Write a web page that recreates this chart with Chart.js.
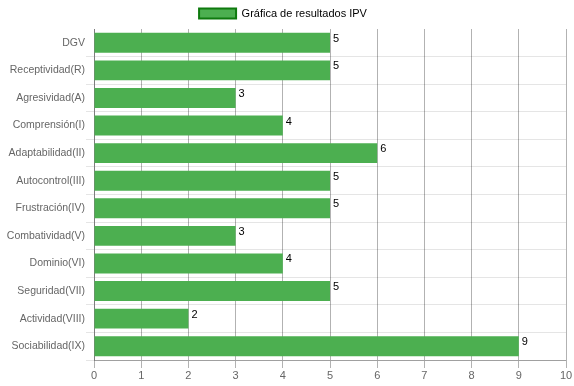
<!DOCTYPE html>
<html>
<head>
<meta charset="utf-8">
<script src="https://cdn.jsdelivr.net/npm/chart.js@4.4.0/dist/chart.umd.min.js"></script>
<style>
html,body{margin:0;padding:0;background:#fff;}
#wrap{width:574px;height:386px;}
</style>
</head>
<body>
<div id="wrap"><canvas id="c" width="574" height="386"></canvas></div>
<script>
const categories = ["DGV","Receptividad(R)","Agresividad(A)","Comprensión(I)","Adaptabilidad(II)","Autocontrol(III)","Frustración(IV)","Combatividad(V)","Dominio(VI)","Seguridad(VII)","Actividad(VIII)","Sociabilidad(IX)"];
const values = [5,5,3,4,6,5,5,3,4,5,2,9];
const seriesLabel = "Gráfica de resultados IPV";
const xTicks = [0,1,2,3,4,5,6,7,8,9,10];

Chart.defaults.font.family = "'Liberation Sans', Arial, Helvetica, sans-serif";
Chart.defaults.font.size = 11;
Chart.defaults.color = '#666';

const valueLabels = {
  id: 'valueLabels',
  afterLayout(chart) {
    if (chart.legend) { chart.legend.left -= 4; chart.legend.right -= 4; }
  },
  afterDatasetsDraw(chart) {
    const ctx = chart.ctx;
    ctx.save();
    ctx.font = "11px 'Liberation Sans', Arial, sans-serif";
    ctx.fillStyle = '#000';
    ctx.textAlign = 'left';
    ctx.textBaseline = 'alphabetic';
    chart.getDatasetMeta(0).data.forEach((bar, i) => {
      ctx.fillText(String(chart.data.datasets[0].data[i]), bar.x + 3, bar.y - 1);
    });
    ctx.restore();
  }
};

new Chart(document.getElementById('c'), {
  type: 'bar',
  data: {
    labels: categories,
    datasets: [{
      label: seriesLabel,
      data: values,
      backgroundColor: '#4CAF50',
      borderWidth: 0
    }]
  },
  options: {
    indexAxis: 'y',
    responsive: false,
    animation: false,
    layout: { padding: { left: 0, right: 0, top: 0, bottom: 0 } },
    plugins: {
      legend: {
        position: 'top',
        labels: {
          boxWidth: 37,
          boxHeight: 10,
          padding: 8,
          generateLabels(chart) {
            return [{
              text: seriesLabel,
              fillStyle: '#4CAF50',
              strokeStyle: '#0E7A0E',
              lineWidth: 2,
              datasetIndex: 0,
              hidden: false
            }];
          }
        }
      },
      tooltip: {enabled: false}
    },
    scales: {
      x: {
        min: 0, max: 10,
        z: 1,
        afterBuildTicks(scale) { scale.ticks = xTicks.map(v => ({value: v})); },
        afterFit(scale) { scale.height = 26; scale.paddingRight = 8; },
        grid: { color: 'rgba(0,0,0,0.3)', tickLength: 8 },
        border: { color: 'rgba(0,0,0,0.3)' },
        ticks: { color: '#666', padding: 1 }
      },
      y: {
        afterFit(scale) { scale.width = 94; },
        grid: {
          color: (c) => c.index === 0 ? 'rgba(0,0,0,0)' : 'rgba(0,0,0,0.1)',
          tickLength: 8
        },
        border: { color: 'rgba(0,0,0,0.3)' },
        ticks: { color: '#666', font: { size: 10.5 }, padding: 1 }
      }
    }
  },
  plugins: [valueLabels]
});
</script>
</body>
</html>
